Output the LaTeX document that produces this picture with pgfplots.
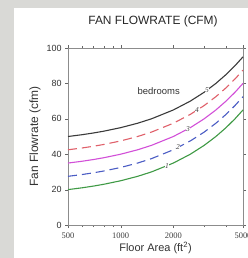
\documentclass[border=0pt]{standalone}
\usepackage{pgfplots}
\pgfplotsset{compat=1.18}
\usepackage{fontspec}
\setmainfont{Liberation Sans}
\newfontfamily\serifnum{Liberation Serif}
\definecolor{bg}{HTML}{D9D9D6}
\definecolor{cA}{HTML}{3F9A45}
\definecolor{cB}{HTML}{4A5CC4}
\definecolor{cC}{HTML}{D24FD8}
\definecolor{cD}{HTML}{E0606A}
\definecolor{cE}{HTML}{3A3A3A}
\begin{document}
\begin{tikzpicture}
\useasboundingbox (0,0) rectangle (248bp,-258bp);
\clip (0,0) rectangle (248bp,-258bp);
\fill[bg] (0,0) rectangle (248bp,-258bp);
\fill[white] (14bp,-8bp) rectangle (260bp,-270bp);
\node[font=\fontsize{12}{13}\selectfont, text=black!85] at (153bp,-21bp) {FAN FLOWRATE (CFM)};
\begin{axis}[
  at={(68bp,-225bp)}, anchor=south west,
  width=175bp, height=177bp, scale only axis,
  xmode=log, xmin=500, xmax=5000, ymin=0, ymax=100,
  xtick={500,1000,2000,5000},
  xticklabels={500,1000,2000,5000},
  ytick={0,20,40,60,80,100},
  minor xtick={600,700,800,900,3000,4000},
  tick align=outside,
  major tick length=3bp, minor tick length=2bp,
  tick style={black!60},
  axis line style={black!45},
  xticklabel style={font=\serifnum\fontsize{8.5}{9}\selectfont, text=black!75, yshift=-1bp},
  yticklabel style={font=\fontsize{9}{10}\selectfont, text=black!80},
  /pgf/number format/assume math mode=true,
  xlabel={Floor Area (ft\textsuperscript{2})},
  ylabel={Fan Flowrate (cfm)},
  xlabel style={font=\fontsize{11}{12}\selectfont, text=black!80, yshift=3bp},
  ylabel style={font=\fontsize{12}{13}\selectfont, text=black!80, yshift=-1bp},
  clip=false,
  every axis plot/.append style={line width=1.1pt},
]
\addplot[cA] coordinates {(500,20) (600,21) (700,22) (800,23) (1000,25) (1250,27.5) (1500,30) (2000,35) (2500,40) (3000,45) (3500,50) (4000,55) (4500,60) (5000,65)};
\addplot[cB, dash pattern=on 9bp off 5bp] coordinates {(500,27.5) (600,28.5) (700,29.5) (800,30.5) (1000,32.5) (1250,35) (1500,37.5) (2000,42.5) (2500,47.5) (3000,52.5) (3500,57.5) (4000,62.5) (4500,67.5) (5000,72.5)};
\addplot[cC] coordinates {(500,35) (600,36) (700,37) (800,38) (1000,40) (1250,42.5) (1500,45) (2000,50) (2500,55) (3000,60) (3500,65) (4000,70) (4500,75) (5000,80)};
\addplot[cD, dash pattern=on 9bp off 5bp] coordinates {(500,42.5) (600,43.5) (700,44.5) (800,45.5) (1000,47.5) (1250,50) (1500,52.5) (2000,57.5) (2500,62.5) (3000,67.5) (3500,72.5) (4000,77.5) (4500,82.5) (5000,87.5)};
\addplot[cE] coordinates {(500,50) (600,51) (700,52) (800,53) (1000,55) (1250,57.5) (1500,60) (2000,65) (2500,70) (3000,75) (3500,80) (4000,85) (4500,90) (5000,95)};
\begin{scope}[every node/.style={fill=white, inner sep=0.4bp, font=\serifnum\itshape\fontsize{7.5}{8}\selectfont, text=black!75}]
\node at (axis cs:1840,33.4) {1};
\node at (axis cs:2126,43.8) {2};
\node at (axis cs:2425,54.3) {3};
\node at (axis cs:2729,64.8) {4};
\node at (axis cs:3114,76.1) {5};
\end{scope}
\node[font=\fontsize{9.5}{10}\selectfont, text=black!80] at (axis cs:1650,75.5) {bedrooms};
\end{axis}
\end{tikzpicture}
\end{document}
